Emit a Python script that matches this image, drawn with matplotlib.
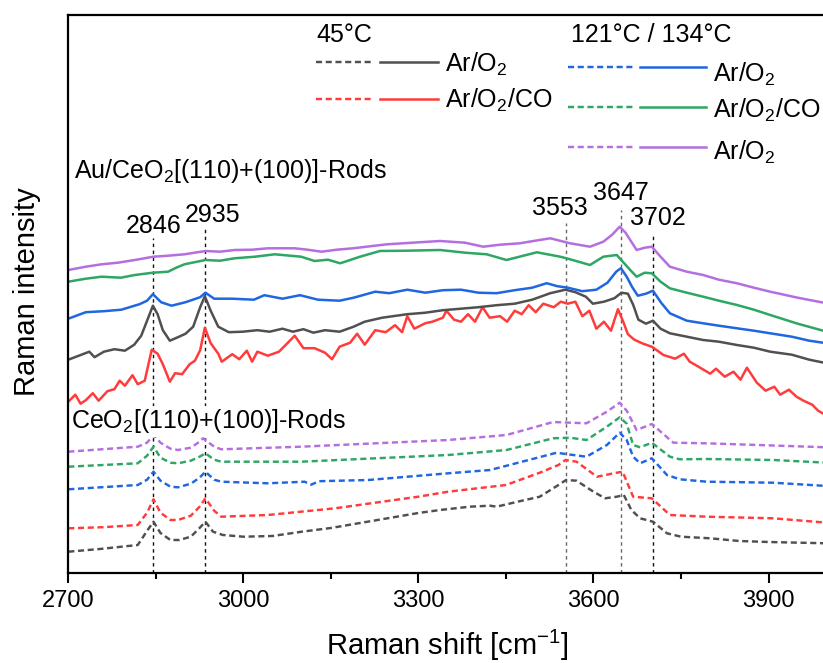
import matplotlib
matplotlib.use("Agg")
import matplotlib.pyplot as plt
from matplotlib.lines import Line2D

plt.rcParams['font.family'] = ['Liberation Sans', 'DejaVu Sans']
plt.rcParams['mathtext.fontset'] = 'custom'
plt.rcParams['mathtext.rm'] = 'Liberation Sans'
plt.rcParams['mathtext.it'] = 'Liberation Sans:italic'
plt.rcParams['mathtext.bf'] = 'Liberation Sans:bold'

# ---------------- data (Raman shift in cm^-1, intensity in arbitrary offset units) -------------
# CeO2 rods (dashed)
ce_gray_x = [2700, 2754, 2819, 2836, 2846, 2858, 2875, 2890, 2910, 2925, 2935, 2948, 2965, 3000, 3050,
             3100, 3150, 3200, 3250, 3300, 3337, 3388, 3423, 3434, 3470, 3508, 3540, 3553, 3571, 3600,
             3620, 3640, 3652, 3665, 3680, 3702, 3726, 3750, 3800, 3850, 3900, 4000]
ce_gray_y = [21, 23.7, 27.7, 42.7, 51, 39.7, 32.7, 32.7, 36, 44.7, 51, 41, 37.7, 36, 36.7,
             41, 44.7, 49.7, 54.7, 59.7, 62.7, 66, 67, 66, 71, 76, 87.7, 92.7, 92, 81,
             74.4, 76, 77.7, 62.7, 54.4, 51, 39.4, 36, 34.4, 31.7, 30.7, 29.4]

ce_red_x = [2700, 2760, 2819, 2835, 2846, 2858, 2875, 2888, 2910, 2925, 2935, 2950, 2962, 3042, 3157,
            3300, 3351, 3450, 3508, 3540, 3552, 3571, 3606, 3640, 3650, 3668, 3700, 3731, 3794, 3908, 4000]
ce_red_y = [44.4, 45.5, 47.7, 60, 73.4, 60, 52.7, 52.7, 57, 66, 74.4, 62, 56, 57.7, 64.4,
            76, 81, 87.7, 100, 107.7, 112.7, 111, 96, 100, 101, 76, 74.4, 57.7, 56, 54.4, 50]

ce_blue_x = [2700, 2819, 2835, 2846, 2858, 2875, 2888, 2910, 2925, 2935, 2950, 2962, 3042, 3105, 3116,
             3130, 3214, 3351, 3423, 3537, 3552, 3588, 3623, 3645, 3657, 3668, 3680, 3700, 3726, 3748,
             3794, 3908, 4000]
ce_blue_y = [83.4, 87.7, 93, 101, 92, 86, 85.4, 89, 95, 101, 93, 91, 89.4, 91, 88,
             91.5, 92.7, 99.4, 102.7, 120, 118.7, 116, 127.7, 140, 132.7, 116, 109.4, 114.4, 97.7, 93.4,
             91, 90, 86.7]

ce_green_x = [2700, 2819, 2835, 2846, 2858, 2875, 2888, 2910, 2925, 2935, 2950, 2962, 3099, 3351, 3451,
              3531, 3560, 3588, 3623, 3645, 3657, 3668, 3680, 3700, 3731, 3748, 3794, 3908, 4000]
ce_green_y = [106, 109.4, 117, 126, 115, 110, 109.4, 112, 116, 119.4, 113, 111, 111, 117.7, 122.7,
              134.4, 135, 132.7, 146, 155.4, 149, 127.7, 125.4, 130, 116, 113.4, 113.7, 112.7, 110]

ce_purple_x = [2700, 2819, 2835, 2846, 2858, 2875, 2888, 2910, 2925, 2931, 2950, 2962, 3099, 3351, 3451,
               3531, 3560, 3588, 3623, 3645, 3657, 3674, 3700, 3737, 3794, 4000]
ce_purple_y = [121, 126, 130, 137.7, 130, 124, 122.7, 125, 131, 134.4, 126, 123.4, 126, 132.7, 137.7,
               150.7, 150, 149.4, 161, 170, 162, 142.7, 148.7, 130, 129.4, 125.4]

# Au/CeO2 rods (solid)
au_gray_x = [2700, 2718, 2736, 2745, 2761, 2779, 2797, 2813, 2825, 2837, 2845, 2853, 2862, 2874, 2886,
             2901, 2914, 2926, 2934, 2944, 2957, 2975, 2999, 3024, 3045, 3067, 3085, 3103, 3120, 3140,
             3165, 3189, 3208, 3238, 3281, 3312, 3342, 3373, 3403, 3434, 3465, 3495, 3526, 3552, 3569,
             3587, 3599, 3618, 3636, 3648, 3659, 3668, 3677, 3690, 3702, 3715, 3731, 3760, 3788, 3815,
             3846, 3875, 3903, 3940, 3970, 4000]
au_gray_y = [213, 217, 221, 215.5, 221, 223.5, 222, 228, 237, 255, 267, 258.5, 242.5, 232, 235,
             239, 246, 265.5, 276.5, 262, 246, 240.5, 241, 242.5, 241, 244, 241, 243.5, 240, 242.5,
             241, 246, 251, 255, 258.5, 260, 262.5, 264, 265.5, 267.5, 269, 273, 279.5, 283, 280.5,
             276, 269, 271, 274.5, 280, 279, 268, 253, 249, 252, 244, 239.4, 236, 232.7, 231,
             227.7, 225, 221, 218, 213, 209.4]

au_red_x = [2700, 2712, 2721, 2730, 2742, 2752, 2767, 2779, 2788, 2797, 2810, 2819, 2831, 2843, 2853,
            2862, 2874, 2883, 2895, 2908, 2917, 2926, 2934, 2944, 2957, 2963, 2981, 2993, 3006, 3015,
            3024, 3042, 3061, 3073, 3088, 3103, 3122, 3140, 3152, 3165, 3183, 3195, 3208, 3226, 3244,
            3260, 3272, 3281, 3293, 3312, 3324, 3342, 3348, 3361, 3373, 3385, 3397, 3410, 3422, 3440,
            3452, 3465, 3477, 3489, 3501, 3514, 3532, 3544, 3556, 3569, 3581, 3593, 3605, 3618, 3630,
            3642, 3651, 3659, 3670, 3685, 3700, 3708, 3720, 3740, 3755, 3765, 3780, 3800, 3810, 3825,
            3840, 3852, 3863, 3880, 3895, 3910, 3920, 3935, 3948, 3960, 3975, 3985, 4000]
au_red_y = [171, 178, 169, 172.5, 179.5, 172, 181.5, 183.5, 192, 187, 197.5, 188.5, 192, 223, 219,
            208.5, 191, 199.5, 198.5, 208.5, 212, 222.5, 245, 229.5, 219, 211, 218.5, 213.5, 222, 211,
            221, 217, 221, 228, 237, 224.5, 224.5, 220, 213.5, 226, 230, 239, 228, 242.5, 240.5,
            247.5, 240.5, 256.5, 244, 249.5, 251, 255, 262, 253, 251, 258.5, 251, 265.5, 255, 256.5,
            251, 262, 258.5, 267.5, 260.5, 269, 265.5, 271, 269, 271, 256.5, 262, 244, 251, 242,
            263.5, 251, 238.5, 233, 229, 226, 222.7, 217.7, 214, 219, 211, 206, 199, 204, 196,
            201, 193, 205, 190, 182, 186, 178, 183, 176, 172, 168, 162, 157]

au_blue_x = [2700, 2730, 2761, 2791, 2822, 2835, 2845, 2859, 2877, 2901, 2926, 2935, 2950, 2981, 3018,
             3036, 3067, 3097, 3128, 3165, 3189, 3226, 3250, 3281, 3312, 3342, 3373, 3403, 3434, 3465,
             3495, 3520, 3538, 3556, 3581, 3605, 3624, 3639, 3647, 3657, 3666, 3676, 3690, 3702, 3716,
             3731, 3760, 3788, 3815, 3846, 3875, 3903, 3940, 3970, 4000]
au_blue_y = [254, 260.5, 261.5, 263, 268.5, 272, 278.5, 270.5, 267, 270.5, 275.5, 280, 274, 274, 273,
             277.5, 274, 277.5, 273, 272, 275, 281, 279.5, 283, 280, 282.5, 283, 280, 279.5, 282.5,
             285, 289.5, 286.5, 285, 281.5, 283, 290, 301, 304.5, 296, 286, 277, 279, 282, 270,
             259.4, 252, 249.4, 247, 244.4, 242, 239.4, 236, 232, 229.4]

au_green_x = [2700, 2730, 2757, 2790, 2814, 2845, 2871, 2885, 2899, 2935, 2960, 2985, 3020, 3054, 3080,
              3099, 3122, 3145, 3166, 3200, 3234, 3280, 3337, 3380, 3417, 3451, 3480, 3503, 3543, 3560,
              3594, 3617, 3640, 3645, 3663, 3674, 3688, 3700, 3715, 3731, 3760, 3788, 3815, 3846, 3875,
              3903, 3950, 4000]
au_green_y = [291, 294, 296, 295, 297.7, 300, 301, 305, 308.4, 312.7, 312, 314.4, 316, 318.4, 317,
              316, 311.7, 313, 309.4, 316, 321.7, 322, 322.7, 320, 318.4, 312.7, 317, 320.4, 316, 313.4,
              307.7, 316, 317.7, 314.4, 302.7, 296, 300, 299.4, 291, 284.4, 280, 276, 272, 267.7, 263,
              257.7, 249, 241]

au_purple_x = [2700, 2730, 2757, 2785, 2814, 2846, 2871, 2899, 2935, 2960, 2985, 3015, 3042, 3088, 3110,
               3134, 3160, 3188, 3246, 3290, 3337, 3380, 3411, 3440, 3474, 3500, 3526, 3560, 3594, 3617,
               3632, 3645, 3655, 3663, 3674, 3688, 3700, 3715, 3731, 3760, 3788, 3815, 3846, 3875, 3903,
               3950, 4000]
au_purple_y = [302.7, 306, 308.4, 310, 312.7, 316, 317, 318.4, 321.7, 321, 322.7, 323, 324.4, 324.4, 323,
               321, 323, 324.4, 328.4, 330, 331.7, 330, 326, 328, 329.4, 332, 334.4, 329.4, 326, 331,
               338, 346, 340, 332.7, 322.7, 325, 326, 316, 306, 301, 297.7, 293, 289.4, 285, 281,
               275, 269.4]

peak_positions = [2846, 2935, 3553, 3647, 3702]
peak_tops = [334.7, 344.7, 349.7, 362.7, 337.7]
peak_colors = ['#111111', '#111111', '#666666', '#666666', '#111111']

x_ticks = [2700, 3000, 3300, 3600, 3900]
x_minor = [2850, 3150, 3450, 3750]

c_gray, c_red, c_blue, c_green, c_purple = '#505050', '#ff3b3b', '#1f66e0', '#2ea664', '#b56ee0'

# ---------------- figure ----------------
W, H = 823, 663
fig = plt.figure(figsize=(W / 100, H / 100), dpi=100)
L, R, T, B = 68.3, 823.0, 15.0, 572.7
ax = fig.add_axes([L / W, (H - B) / H, (R - L) / W, (B - T) / H])
ax.set_xlim(2700, 2700 + (R - L) / 0.5835)
ax.set_ylim(0, B - T)

def P(px, py):
    return px / W, (H - py) / H

dash = (2.5, 1.5)
lw_d, lw_s = 1.75, 1.8

dashed_sets = [(ce_gray_x, ce_gray_y, c_gray), (ce_red_x, ce_red_y, c_red), (ce_blue_x, ce_blue_y, c_blue),
               (ce_green_x, ce_green_y, c_green), (ce_purple_x, ce_purple_y, c_purple)]
solid_sets = [(au_red_x, au_red_y, c_red), (au_gray_x, au_gray_y, c_gray), (au_blue_x, au_blue_y, c_blue),
              (au_green_x, au_green_y, c_green), (au_purple_x, au_purple_y, c_purple)]

for xp, top, c in zip(peak_positions, peak_tops, peak_colors):
    ax.plot([xp, xp], [0, top], color=c, lw=1.0, linestyle=(0, (2.5, 2.5)), zorder=1)

for xs, ys, c in dashed_sets:
    ax.plot(xs, ys, color=c, lw=lw_d, linestyle=(0, dash), zorder=2)
for xs, ys, c in solid_sets:
    ax.plot(xs, ys, color=c, lw=lw_s, zorder=2)

# axes styling
for s in ['left', 'top', 'bottom']:
    ax.spines[s].set_linewidth(1.6)
ax.spines['right'].set_visible(False)
ax.set_yticks([])
ax.set_xticks(x_ticks)
ax.set_xticklabels([str(t) for t in x_ticks], fontsize=17)
ax.set_xticks(x_minor, minor=True)
ax.tick_params(axis='x', which='major', direction='out', length=7.5, width=1.5, pad=5)
ax.tick_params(axis='x', which='minor', direction='out', length=4.5, width=1.5)

fig.text(*P(447, 655), 'Raman shift [cm$^{-1}$]', fontsize=21, ha='center', va='baseline')
fig.text(*P(35, 292), 'Raman intensity', fontsize=21, ha='center', va='baseline',
         rotation=90, rotation_mode='anchor')

# peak labels
lab_pos = [(153.5, 233), (213, 222), (560, 215), (621, 200), (658, 225)]
for (lx, ly), xp in zip(lab_pos, peak_positions):
    fig.text(*P(lx, ly), str(xp), fontsize=18, ha='center', va='baseline')

fig.text(*P(74, 178), 'Au/CeO$_2$[(110)+(100)]-Rods', fontsize=18, ha='left', va='baseline')
ax.text(*P(71, 428), 'CeO$_2$[(110)+(100)]-Rods', fontsize=18, ha='left', va='baseline',
        transform=fig.transFigure, bbox=dict(facecolor='white', edgecolor='none', pad=1.0), zorder=2.2)

# custom legend
fig.text(*P(316.7, 41.7), '45°C', fontsize=18, ha='left', va='baseline')
fig.text(*P(571, 41.7), '121°C / 134°C', fontsize=18, ha='left', va='baseline')

def seg(x0, x1, y, c, dashed):
    (fx0, fy), (fx1, _) = P(x0, y), P(x1, y)
    ls = (0, dash) if dashed else '-'
    fig.add_artist(Line2D([fx0, fx1], [fy, fy], color=c, lw=lw_d if dashed else lw_s, linestyle=ls))

legend_left = [(c_gray, 62.3, 'Ar/O$_2$', 71.7), (c_red, 99.3, 'Ar/O$_2$/CO', 108.3)]
for c, y, lab, by in legend_left:
    seg(316, 372, y, c, True)
    seg(380, 438, y, c, False)
    fig.text(*P(445, by), lab, fontsize=18, ha='left', va='baseline')

legend_right = [(c_blue, 66.7, 'Ar/O$_2$', 81.7), (c_green, 106.7, 'Ar/O$_2$/CO', 118),
                (c_purple, 146.7, 'Ar/O$_2$', 160)]
for c, y, lab, by in legend_right:
    seg(568, 635, y, c, True)
    seg(640, 706, y, c, False)
    fig.text(*P(712.7, by), lab, fontsize=18, ha='left', va='baseline')

fig.savefig('out.png', dpi=100)
